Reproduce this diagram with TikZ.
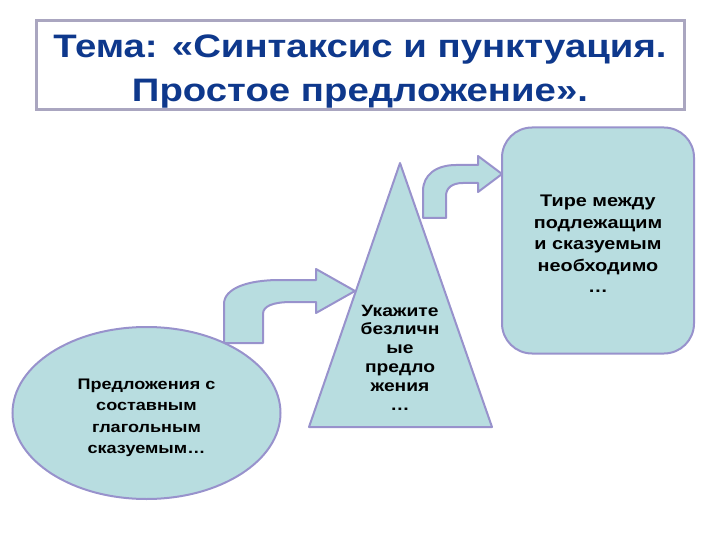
\documentclass[tikz,border=0pt]{standalone}
\usepackage{fontspec}
\setmainfont{Liberation Sans}[FakeStretch=1.18]
\usetikzlibrary{shapes.geometric}

\definecolor{fillcol}{RGB}{184,221,224}
\definecolor{edgecol}{RGB}{152,146,204}
\definecolor{titlecol}{RGB}{14,56,140}
\definecolor{framecol}{RGB}{170,166,192}

\tikzset{
  blob/.style={fill=fillcol, draw=edgecol, line width=2pt},
  bodytext/.style={align=center, font=\bfseries\fontsize{15.3}{21.5}\selectfont, text=black}
}

\begin{document}
\begin{tikzpicture}[x=1pt, y=-1pt]
  \useasboundingbox (0,0) rectangle (720,540);

  % Title frame
  \node[draw=framecol, line width=2.5pt, minimum width=648, minimum height=89] (title) at (360.5,65) {};
  \node[align=center, text=titlecol, font=\bfseries\fontsize{32.5}{44}\selectfont]
        (titletext) at (360,72) {Тема: «Синтаксис и пунктуация.\\Простое предложение».};

  % Bent arrows (drawn first, shapes lie on top)
  \draw[blob, line join=round] (224,343) -- (224,304)
    .. controls (224,289) and (246,280) .. (280,280) -- (316,280) -- (316,269)
    -- (355,291) -- (316,313) -- (316,302) -- (292,302)
    .. controls (273,302) and (263,306) .. (263,314) -- (263,343) -- cycle;
  \draw[blob, line join=round] (423,218) -- (423,191)
    .. controls (423,175) and (436,165) .. (456,165) -- (478,165) -- (478,156)
    -- (502,174) -- (478,192) -- (478,183) -- (463,183)
    .. controls (452,183) and (446,188) .. (446,196) -- (446,218) -- cycle;

  % Ellipse
  \node[blob, ellipse, minimum width=268, minimum height=172, inner sep=0pt] (ell) at (146.5,413) {};
  \node[bodytext] (elltext) at (146.5,418) {Предложения с\\составным\\глагольным\\сказуемым…};

  % Triangle
  \coordinate (T1) at (400,163);
  \coordinate (T2) at (309,427);
  \coordinate (T3) at (492,427);
  \draw[blob, line join=round] (T1) -- (T2) -- (T3) -- cycle;
  \node[bodytext, font=\bfseries\fontsize{16.3}{18.8}\selectfont] (tri) at (400,357.5)
        {Укажите\\безличн\\ые\\предло\\жения\\…};

  % Rounded box
  \node[blob, rounded corners=30, minimum width=192, minimum height=226] (rbox) at (598,240.5) {};
  \node[bodytext, font=\bfseries\fontsize{16.8}{21.5}\selectfont] (rtext) at (598,244)
        {Тире между\\подлежащим\\и сказуемым\\необходимо\\…};
\end{tikzpicture}
\end{document}
